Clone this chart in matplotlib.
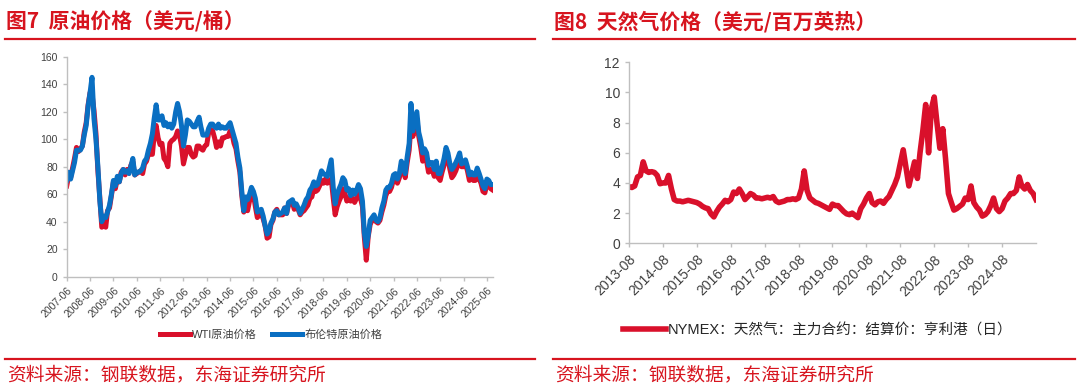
import pandas as pd
import matplotlib
matplotlib.use('Agg')
import matplotlib.pyplot as plt
from matplotlib.lines import Line2D

plt.rcParams['font.family'] = ['Liberation Sans', 'Noto Sans CJK SC', 'DejaVu Sans']

RED = '#d7141e'
LINE_RED = '#d9102b'
BLUE = '#0a6fc2'
AXIS_GRAY = '#bfbfbf'
TEXT_GRAY = '#404040'

# --- Figure 7: crude oil, monthly, 2007-06 .. 2025-09 ---
oil_start = '2007-06'
wti = [
    66, 73, 72, 79, 86, 94, 91,
    93, 95, 105, 112, 125, 134, 133, 121, 104, 77, 57, 36,
    37, 36, 48, 50, 59, 69, 64, 71, 69, 76, 78, 74,
    78, 76, 81, 84, 74, 75, 76, 77, 75, 82, 84, 89,
    89, 89, 103, 110, 101, 96, 97, 86, 84, 80, 97, 99,
    100, 102, 106, 103, 95, 82, 88, 94, 94, 89, 87, 88,
    95, 95, 93, 92, 95, 96, 105, 107, 106, 101, 94, 98,
    95, 101, 101, 102, 102, 106, 104, 97, 93, 84, 76, 59,
    47, 51, 48, 55, 59, 60, 51, 43, 45, 46, 42, 37,
    28, 29, 38, 41, 47, 49, 45, 45, 45, 50, 46, 52,
    53, 54, 49, 51, 49, 45, 47, 48, 50, 52, 57, 58,
    64, 62, 63, 66, 70, 68, 71, 68, 70, 71, 57, 45,
    51, 55, 58, 64, 61, 55, 57, 55, 57, 54, 57, 60,
    57, 51, 29, 12, 29, 38, 41, 42, 40, 39, 41, 47,
    52, 59, 62, 62, 65, 71, 72, 68, 72, 81, 79, 72,
    83, 92, 110, 102, 110, 115, 102, 94, 84, 88, 84, 76,
    78, 77, 73, 79, 72, 70, 76, 81, 89, 86, 78, 72,
    74, 77, 81, 85, 80, 80, 82, 77, 70, 72, 70, 70,
    75, 71, 68, 62, 61, 67, 67, 64, 63,
]
brent = [
    70, 76, 71, 77, 83, 92, 92,
    92, 95, 103, 110, 124, 134, 145, 115, 100, 80, 55, 40,
    44, 43, 47, 52, 60, 70, 66, 73, 69, 75, 78, 76,
    77, 75, 80, 86, 74, 76, 76, 77, 79, 84, 86, 92,
    97, 104, 115, 125, 114, 114, 117, 110, 112, 109, 111, 108,
    111, 120, 126, 120, 110, 95, 103, 114, 113, 111, 109, 109,
    113, 116, 109, 103, 103, 103, 108, 111, 111, 109, 108, 111,
    108, 109, 108, 108, 110, 112, 107, 102, 97, 87, 79, 62,
    48, 58, 56, 60, 65, 62, 57, 47, 48, 49, 44, 37,
    31, 33, 39, 42, 47, 48, 45, 46, 47, 50, 46, 54,
    55, 56, 52, 53, 50, 46, 49, 52, 56, 58, 63, 65,
    69, 66, 67, 72, 77, 75, 74, 73, 79, 85, 65, 53,
    60, 64, 67, 72, 70, 63, 64, 59, 63, 60, 63, 67,
    64, 55, 32, 22, 30, 41, 43, 45, 41, 40, 43, 50,
    55, 63, 65, 65, 68, 74, 75, 71, 75, 84, 81, 75,
    87, 97, 126, 106, 113, 120, 105, 99, 90, 93, 90, 81,
    83, 83, 78, 84, 75, 75, 80, 86, 94, 90, 82, 78,
    80, 83, 86, 90, 82, 83, 85, 80, 74, 76, 74, 74,
    79, 75, 71, 66, 64, 71, 70, 67, 67,
]
oil_ticks = ['%d-06' % y for y in range(2007, 2026)]
oil_yticks = [0, 20, 40, 60, 80, 100, 120, 140, 160]

# --- Figure 8: NYMEX natural gas, monthly, 2013-08 .. 2025-08 ---
gas_start = '2013-08'
gas = [
    3.75, 3.7, 3.8, 4.4, 4.5,
    5.4, 4.8, 4.7, 4.75, 4.7, 4.5, 3.95, 4.0, 4.0, 4.5, 3.6, 2.9,
    2.8, 2.8, 2.75, 2.8, 2.85, 2.8, 2.75, 2.7, 2.6, 2.45, 2.35, 2.3,
    1.95, 1.75, 2.1, 2.4, 2.6, 2.85, 2.75, 2.9, 3.4, 3.3, 3.6, 3.3,
    2.9, 3.1, 3.3, 3.2, 3.0, 3.0, 2.95, 3.0, 3.05, 3.0, 3.1, 2.8,
    2.7, 2.75, 2.8, 2.9, 2.9, 2.95, 2.9, 3.0, 3.6, 4.8, 3.5, 3.0,
    2.85, 2.7, 2.65, 2.55, 2.45, 2.35, 2.25, 2.6, 2.5, 2.5, 2.3, 2.1,
    1.95, 1.9, 2.0, 1.85, 1.7, 2.3, 2.6, 3.0, 3.3, 2.7, 2.55, 2.75,
    2.8, 2.65, 2.9, 3.1, 3.5, 3.9, 4.4, 5.3, 6.2, 5.0, 3.8, 4.6,
    5.4, 4.3, 6.0, 7.5, 9.2, 6.0, 8.9, 9.7, 7.9, 6.3, 7.6, 5.6,
    3.3, 2.7, 2.2, 2.3, 2.45, 2.6, 3.0, 2.9, 3.8, 2.7, 2.4, 2.2,
    1.8, 1.9, 2.1, 2.5, 3.0, 2.3, 2.1, 2.3, 2.8, 3.0, 3.3, 3.3,
    3.5, 4.4, 3.8, 3.6, 3.9, 3.5, 3.3, 2.9,
]
gas_ticks = ['%d-08' % y for y in range(2013, 2025)]
gas_yticks = [0, 2, 4, 6, 8, 10, 12]


def month_index(start, n):
    return pd.period_range(start, periods=n, freq='M').to_timestamp()


def style_axes(ax, fs):
    for side in ('top', 'right'):
        ax.spines[side].set_visible(False)
    for side in ('left', 'bottom'):
        ax.spines[side].set_color(AXIS_GRAY)
        ax.spines[side].set_linewidth(1.0)
    ax.tick_params(axis='both', colors=AXIS_GRAY, labelcolor=TEXT_GRAY,
                   labelsize=fs, length=3, width=1.0, direction='out')
    ax.set_facecolor('none')


fig = plt.figure(figsize=(10.8, 3.86), dpi=100)
W, H = 1080.0, 386.0


def fx(px):
    return px / W


def fy(py):
    return 1 - py / H


# left chart
ax1 = fig.add_axes([fx(66.7), fy(276.7), fx(493 - 66.7), (276.7 - 56.7) / H])
oil_dates = month_index(oil_start, len(wti))
ax1.plot(oil_dates, wti, color=LINE_RED, lw=3.6, label='WTI原油价格', solid_joinstyle='round')
ax1.plot(oil_dates, brent, color=BLUE, lw=3.6, label='布伦特原油价格', solid_joinstyle='round')
ax1.set_ylim(0, 160)
ax1.set_yticks(oil_yticks)
ax1.set_xlim(pd.Timestamp('2007-06-01'), pd.Timestamp('2025-09-05'))
ax1.set_xticks(pd.to_datetime(oil_ticks))
ax1.set_xticklabels(oil_ticks, rotation=45, ha='right', va='top', rotation_mode='anchor')
style_axes(ax1, 7.5)
ax1.legend(loc='center', bbox_to_anchor=(fx(271), fy(335)), bbox_transform=fig.transFigure,
           ncol=2, frameon=False, fontsize=8, handlelength=2.7, handletextpad=0.2,
           columnspacing=1.4, labelcolor=TEXT_GRAY)

# right chart
ax2 = fig.add_axes([fx(629), fy(243.3), fx(1036 - 629), (243.3 - 62.3) / H])
gas_dates = month_index(gas_start, len(gas))
ax2.plot(gas_dates, gas, color=LINE_RED, lw=4.0, solid_joinstyle='round',
         label='NYMEX：天然气：主力合约：结算价：亨利港（日）')
ax2.set_ylim(0, 12)
ax2.set_yticks(gas_yticks)
ax2.set_xlim(pd.Timestamp('2013-08-01'), pd.Timestamp('2025-08-01'))
ax2.set_xticks(pd.to_datetime(gas_ticks))
ax2.set_xticklabels(gas_ticks, rotation=45, ha='right', va='top', rotation_mode='anchor')
style_axes(ax2, 10)
ax2.legend(loc='center', bbox_to_anchor=(fx(818), fy(330.5)), bbox_transform=fig.transFigure,
           frameon=False, fontsize=10.5, handlelength=2.9, handletextpad=0.15,
           labelcolor='#262626')

# titles, rules and sources
title_font = ['Noto Sans CJK SC', 'DejaVu Sans']
for x0, x1, title in [(5, 535, '图7  原油价格（美元/桶）'),
                      (553, 1075, '图8  天然气价格（美元/百万英热）')]:
    fig.text(fx(x0 + 1), fy(22), title, color=RED, fontsize=15, fontweight='bold',
             family=title_font, va='center', ha='left')
    fig.add_artist(Line2D([fx(x0), fx(x1)], [fy(39), fy(39)], color=RED, lw=1.6))
    fig.add_artist(Line2D([fx(x0), fx(x1)], [fy(359), fy(359)], color=RED, lw=1.6))
    fig.text(fx(x0 + 2), fy(375), '资料来源：钢联数据，东海证券研究所', color=RED,
             fontsize=13.5, family=title_font, va='center', ha='left')

fig.savefig('out.png', dpi=100, facecolor='white')
